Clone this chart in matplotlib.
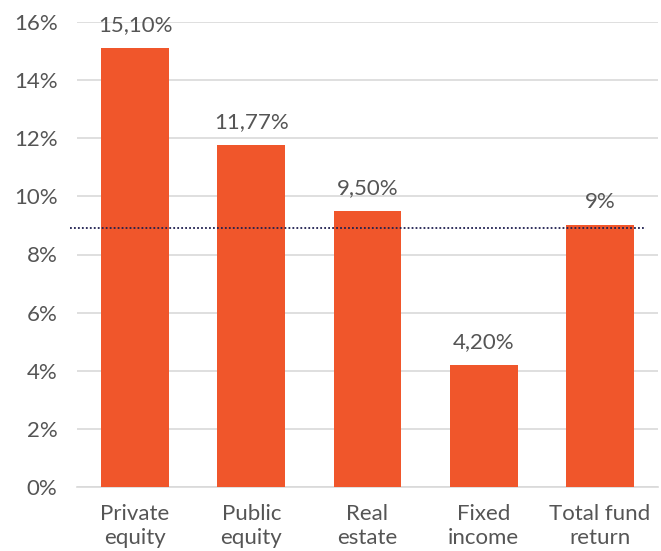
import matplotlib.pyplot as plt
from matplotlib.ticker import FuncFormatter

categories = ['Private\nequity', 'Public\nequity', 'Real\nestate', 'Fixed\nincome', 'Total fund\nreturn']
returns = [15.10, 11.77, 9.50, 4.20, 9.0]
labels = ['15,10%', '11,77%', '9,50%', '4,20%', '9%']
target = 8.9

plt.rcParams['font.family'] = ['Lato', 'DejaVu Sans']
grey = '#555555'

fig = plt.figure(figsize=(6.61, 5.51), dpi=100)
ax = fig.add_axes([77 / 661, 1 - 487 / 551, 581 / 661, 465 / 551])

x = range(len(categories))
bars = ax.bar(x, returns, width=0.585, color='#F0562B', zorder=3)

for xi, v, lab in zip(x, returns, labels):
    ax.text(xi, v + 0.45, lab, ha='center', va='bottom', fontsize=16, color=grey)

ax.plot([-0.56, 4.4], [target, target], linestyle=(0, (1, 1.2)), color='#1F1F4F',
        linewidth=1.3, zorder=4, clip_on=False)

ax.set_xlim(-0.5, 4.5)
ax.set_ylim(0, 16)
ax.set_yticks(range(0, 17, 2))
ax.yaxis.set_major_formatter(FuncFormatter(lambda v, p: f'{int(v)}%'))
ax.set_xticks(list(x))
ax.set_xticklabels(categories, linespacing=1.25)
ax.tick_params(axis='both', length=0, labelsize=16, colors=grey)
ax.tick_params(axis='x', pad=12)
ax.tick_params(axis='y', pad=14)
ax.grid(axis='y', color='#D9D9D9', linewidth=1.2, zorder=0)
for s in ['top', 'right', 'left']:
    ax.spines[s].set_visible(False)
ax.spines['bottom'].set_color('#D9D9D9')
ax.spines['bottom'].set_linewidth(1.2)

fig.savefig('out.png', dpi=100)
